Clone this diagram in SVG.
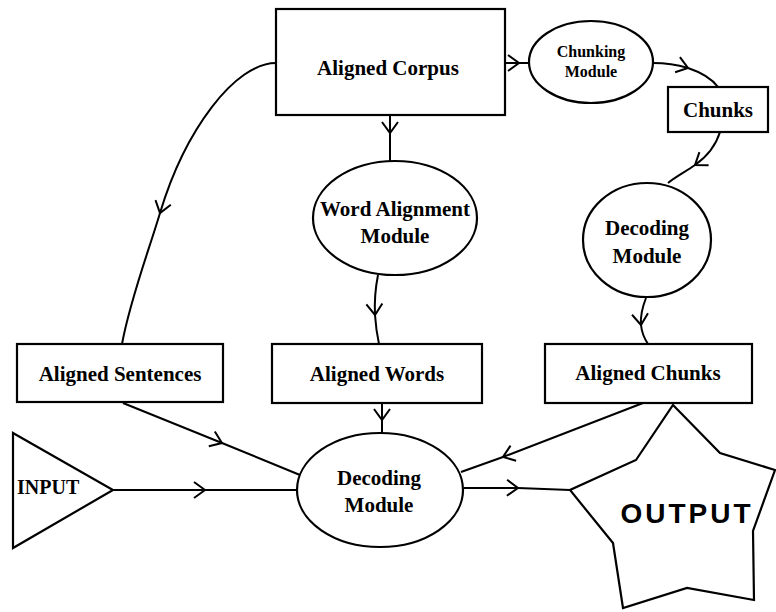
<svg xmlns="http://www.w3.org/2000/svg" width="776" height="612" viewBox="0 0 776 612">
<style>
.shape{fill:#fff;stroke:#000;stroke-width:2.2}
.lbl{font-family:"Liberation Serif","Times New Roman",serif;font-weight:bold;font-size:21px;fill:#000;text-anchor:middle}
.small{font-size:16px}
.out{font-family:"Liberation Sans",Arial,sans-serif;font-weight:bold;font-size:28px;letter-spacing:3px;fill:#000;text-anchor:middle}
.conn{fill:none;stroke:#000;stroke-width:2;marker-mid:url(#chev)}
</style>
<defs>
<marker id="chev" markerUnits="userSpaceOnUse" markerWidth="30" markerHeight="30" viewBox="-15 -15 30 30" refX="0" refY="0" orient="auto" overflow="visible">
<path d="M-11,-8 L0,0 L-11,8" fill="none" stroke="#000" stroke-width="2"/>
</marker>
</defs>
<g id="connectors">
<path class="conn" d="M505,63 L519,63 L530,63"/>
<path class="conn" d="M653,63 C668,63 678,65 688,68 C700,72 712,79 718,87"/>
<path class="conn" d="M720,132 C715,148 705,158 695,165 C685,172 675,177 668,183"/>
<path class="conn" d="M646,298 Q640,313 641,325 Q642,335 648,344"/>
<path class="conn" d="M390,115 L390,133 L390,161"/>
<path class="conn" d="M378,275 Q374,295 375,315 Q376,330 379,344"/>
<path class="conn" d="M382,403 L382,420 L382,433"/>
<path class="conn" d="M123,403 L222,443 L300,475"/>
<path class="conn" d="M113,490 L205,490 L297,490"/>
<path class="conn" d="M643,403 L503,457 L461,472"/>
<path class="conn" d="M464,488 L518,488 L570,490"/>
<path class="conn" d="M276,63 C235,63 185,130 160,213 C149,250 130,300 122,344"/>
</g>
<g id="aligned-corpus">
<rect class="shape" x="276" y="9" width="229" height="106"/>
<text class="lbl" x="388" y="75">Aligned Corpus</text>
</g>
<g id="chunking-module">
<ellipse class="shape" cx="591" cy="62" rx="62" ry="41"/>
<text class="lbl small" x="591" y="57">Chunking</text>
<text class="lbl small" x="591" y="77">Module</text>
</g>
<g id="chunks">
<rect class="shape" x="668" y="87" width="100" height="45"/>
<text class="lbl" x="718" y="117">Chunks</text>
</g>
<g id="word-alignment-module">
<ellipse class="shape" cx="395" cy="218" rx="82" ry="57"/>
<text class="lbl" x="395" y="216">Word Alignment</text>
<text class="lbl" x="395" y="243">Module</text>
</g>
<g id="decoding-module-right">
<ellipse class="shape" cx="647" cy="240" rx="64" ry="57"/>
<text class="lbl" x="647" y="235">Decoding</text>
<text class="lbl" x="647" y="263">Module</text>
</g>
<g id="aligned-sentences">
<rect class="shape" x="17" y="344" width="206" height="58"/>
<text class="lbl" x="120" y="381">Aligned Sentences</text>
</g>
<g id="aligned-words">
<rect class="shape" x="272" y="344" width="210" height="59"/>
<text class="lbl" x="377" y="381">Aligned Words</text>
</g>
<g id="aligned-chunks">
<rect class="shape" x="545" y="344" width="207" height="59"/>
<text class="lbl" x="648" y="380">Aligned Chunks</text>
</g>
<g id="input">
<polygon class="shape" points="13,433 113,490 13,548"/>
<text class="lbl" x="17" y="494" style="text-anchor:start;font-size:20px">INPUT</text>
</g>
<g id="decoding-module-center">
<ellipse class="shape" cx="380" cy="490" rx="83" ry="57"/>
<text class="lbl" x="379" y="485">Decoding</text>
<text class="lbl" x="379" y="512">Module</text>
</g>
<g id="output">
<polygon class="shape" points="673,405 720,453 775,470 753,531 754,600 687,588 623,608 613,543 570,490 636,460"/>
<text class="out" x="687" y="523">OUTPUT</text>
</g>
</svg>
